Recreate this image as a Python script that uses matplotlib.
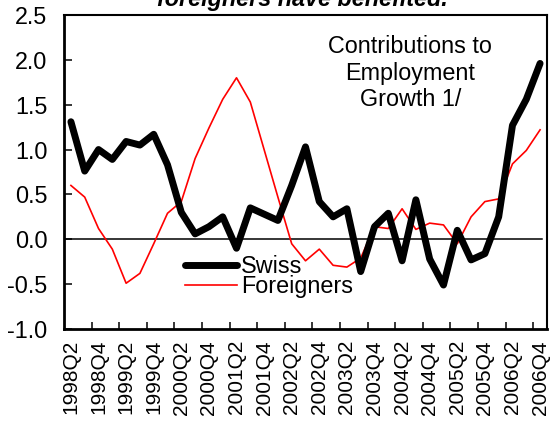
import matplotlib
matplotlib.use("Agg")
import matplotlib.pyplot as plt
import numpy as np

plt.rcParams['font.family'] = ['Liberation Sans', 'DejaVu Sans']
plt.rcParams['axes.unicode_minus'] = False

# quarters shown on the category axis
quarters = ['1998Q2', '1998Q3', '1998Q4',
            '1999Q1', '1999Q2', '1999Q3', '1999Q4',
            '2000Q1', '2000Q2', '2000Q3', '2000Q4',
            '2001Q1', '2001Q2', '2001Q3', '2001Q4',
            '2002Q1', '2002Q2', '2002Q3', '2002Q4',
            '2003Q1', '2003Q2', '2003Q3', '2003Q4',
            '2004Q1', '2004Q2', '2004Q3', '2004Q4',
            '2005Q1', '2005Q2', '2005Q3', '2005Q4',
            '2006Q1', '2006Q2', '2006Q3', '2006Q4']

swiss = [1.31, 0.76, 1.00, 0.89, 1.09, 1.05, 1.17, 0.83, 0.30, 0.06,
         0.14, 0.25, -0.10, 0.35, 0.28, 0.21, 0.60, 1.03, 0.42, 0.25,
         0.34, -0.36, 0.14, 0.29, -0.24, 0.44, -0.22, -0.51, 0.10, -0.23,
         -0.16, 0.25, 1.27, 1.56, 1.96]

foreigners = [0.60, 0.47, 0.12, -0.11, -0.49, -0.38, -0.05, 0.29, 0.42, 0.90,
              1.24, 1.56, 1.80, 1.53, 1.00, 0.47, -0.05, -0.24, -0.11, -0.29,
              -0.31, -0.21, 0.14, 0.12, 0.34, 0.11, 0.18, 0.16, -0.05, 0.25,
              0.42, 0.45, 0.84, 0.99, 1.22]

yticks = [-1.0, -0.5, 0.0, 0.5, 1.0, 1.5, 2.0, 2.5]

fs = 16.8
fig = plt.figure(figsize=(5.5, 4.22), dpi=100)
ax = fig.add_axes([0.1164, 0.2204, 0.8781, 0.7441])

x = np.arange(len(quarters))
ax.axhline(0, xmin=0, xmax=0.989, color='black', lw=1.1, zorder=1)
ax.plot(x, swiss, color='black', lw=5, solid_joinstyle='round',
        solid_capstyle='round', label='Swiss', zorder=3)
ax.plot(x, foreigners, color='red', lw=1.2, label='Foreigners', zorder=2)

ax.set_xlim(-0.5, len(quarters) - 0.5)
ax.set_ylim(-1.0, 2.5)
ax.set_yticks(yticks)
ax.set_yticklabels(['%.1f' % v for v in yticks], fontsize=fs)
ax.tick_params(axis='y', direction='in', length=6, width=1.1, pad=12)

# labels every other quarter, tick marks between categories
ax.set_xticks(x[::2])
ax.set_xticklabels(quarters[::2], rotation=90, fontsize=15)
ax.tick_params(axis='x', which='major', length=0, pad=8)
ax.set_xticks(np.arange(1.5, len(quarters) - 1, 2), minor=True)
ax.tick_params(axis='x', which='minor', direction='in', length=5, width=1.1)

for side in ['left', 'bottom']:
    ax.spines[side].set_linewidth(2.0)
for side in ['top', 'right']:
    ax.spines[side].set_linewidth(1.5)

ax.text(0.717, 0.815, 'Contributions to\nEmployment\nGrowth 1/', transform=ax.transAxes,
        ha='center', va='center', multialignment='center', fontsize=fs)

leg = ax.legend(loc='center left', bbox_to_anchor=(0.25, 0.167), frameon=False,
                fontsize=fs, borderpad=0, borderaxespad=0, handlelength=2.25,
                handletextpad=0.15, labelspacing=-0.15)

fig.text(0.55, 1 - 6 / 422, 'foreigners have benefited.', ha='center', va='baseline',
         fontsize=fs, fontweight='bold', fontstyle='italic')

fig.savefig('out.png', dpi=100)
